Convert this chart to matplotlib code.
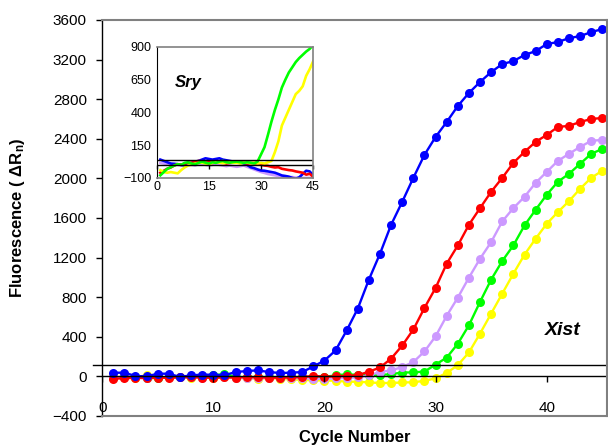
import matplotlib
matplotlib.use("Agg")
import matplotlib.pyplot as plt

plt.rcParams['font.family'] = ['Liberation Sans', 'DejaVu Sans']
plt.rcParams['mathtext.fontset'] = 'custom'
plt.rcParams['mathtext.bf'] = 'Liberation Sans:bold'
plt.rcParams['mathtext.rm'] = 'Liberation Sans:bold'
plt.rcParams['mathtext.it'] = 'Liberation Sans:bold'

# ---- data: Xist (main plot), cycles 1..45 ----
cycles = list(range(1, 46))

xist_blue = [37, 37, 4, 0, 27, 27, -6, 11, 17, 17, 11, 44, 54, 61, 44, 34, 37, 44,
             100, 160, 262, 464, 685, 978, 1240, 1532, 1764, 2006, 2238, 2419, 2570,
             2732, 2863, 2974, 3074, 3155, 3185, 3246, 3286, 3357, 3377, 3417, 3437,
             3478, 3508]
xist_red = [-25, -18, -15, -18, -12, -15, -10, -8, -12, -15, -10, -12, -8, -10, -12,
            -15, -10, -8, 5, -3, 0, 6, 13, 47, 90, 180, 312, 474, 692, 894, 1139, 1323,
            1532, 1700, 1865, 2006, 2157, 2268, 2369, 2439, 2520, 2530, 2570, 2600, 2610]
xist_lavender = [-10, -5, -8, -12, -10, -5, -8, -10, -12, -8, -5, -15, -18, -20, -15,
                 -18, -15, -20, -22, -25, -20, -15, -10, 10, 45, 60, 95, 145, 252, 405,
                 612, 796, 998, 1189, 1357, 1566, 1700, 1814, 1955, 2066, 2177, 2248,
                 2318, 2379, 2389]
xist_green = [-15, -10, -5, -20, -15, -10, -5, -10, 0, 10, 25, -5, -10, -5, -10, -15,
              -10, -5, -10, -5, 10, 22, 15, 10, 15, 22, 39, 40, 49, 119, 190, 330, 517,
              753, 978, 1166, 1324, 1525, 1683, 1835, 1966, 2046, 2147, 2248, 2298]
xist_yellow = [-10, -5, -12, 15, -8, -10, -5, -15, -10, -12, -8, -15, -20, -22, -20,
               -25, -30, -35, -40, -42, -44, -54, -54, -61, -67, -67, -61, -60, -44, -20,
               35, 114, 242, 433, 635, 837, 1038, 1230, 1391, 1542, 1660, 1770, 1895,
               2006, 2077]

# ---- data: Sry (inset) ----
sry_blue = [40, 30, 20, 10, 8, 5, 0, -5, 5, 15, 25, 30, 40, 50, 45, 40, 45, 50, 40, 35,
            30, 25, 20, 17, 10, 0, -18, -25, -35, -43, -45, -50, -55, -60, -70, -81,
            -85, -90, -100, -106, -95, -70, -45, -50, -80]
sry_red = [-60, -45, -30, -20, -5, 5, 0, 10, 15, 17, 20, 30, 25, 17, 20, 15, 17, 20, 17,
           10, 15, 17, 20, 15, 17, 10, 12, 15, 5, 0, -5, -8, -15, -20, -18, -30, -35,
           -40, -43, -50, -55, -60, -75, -68, -90]
sry_lavender = [15, 10, 5, 0, 5, 0, -5, 5, 10, 0, -5, 5, 10, 0, -5, 0, 5, 0, -5, -10,
                -5, -10, -15, -10, -5, -15, -25, -35, -45, -55, -62, -70, -75, -80, -85,
                -88, -92, -95, -93, -98, -100, -100, -100, -100, -100]
sry_green = [-80, -55, -30, -18, -5, 5, 0, 15, 20, 10, 5, 15, 25, 17, 10, 20, 15, 25,
             30, 20, 17, 22, 25, 20, 15, 20, 17, 10, 25, 80, 135, 230, 330, 420, 500,
             590, 650, 705, 745, 785, 815, 840, 865, 885, 915]
sry_yellow = [-40, -55, -60, -55, -60, -65, -40, -20, -5, 0, 10, 15, 17, 10, 5, 15, 20,
              17, 12, 17, 20, 15, 17, 10, 15, 17, 12, 17, 10, 15, 10, 20, 30, 98, 180,
              300, 360, 420, 480, 540, 565, 600, 680, 730, 790]

colors = {'blue': '#0000FF', 'red': '#FF0000', 'lavender': '#CC99FF',
          'green': '#00FF00', 'yellow': '#FFFF00'}

main_xticks = [0, 10, 20, 30, 40]
main_yticks = [-400, 0, 400, 800, 1200, 1600, 2000, 2400, 2800, 3200, 3600]
inset_xticks = [0, 15, 30, 45]
inset_yticks = [-100, 150, 400, 650, 900]

fig = plt.figure(figsize=(6.08, 4.46), dpi=100)

# ---- main plot ----
ax = fig.add_axes([0.168, 0.0673, 0.830, 0.8879])
for key, series in [('yellow', xist_yellow), ('green', xist_green),
                    ('lavender', xist_lavender), ('red', xist_red), ('blue', xist_blue)]:
    ax.plot(cycles, series, color=colors[key], lw=1.7, marker='o', ms=6.5, mew=0)

ax.axhline(0, color='k', lw=1)
ax.axhline(110, color='k', lw=1, xmin=-0.018, clip_on=False)
# tick marks on the y=0 axis line
ax.plot(main_xticks, [0] * len(main_xticks), ls='none', marker=3, ms=4, mew=1, color='k')

ax.set_xlim(0, 45.4)
ax.set_ylim(-400, 3600)
ax.set_xticks(main_xticks)
ax.set_yticks(main_yticks)
ax.tick_params(axis='x', length=0, pad=-10.5, labelsize=11)
ax.tick_params(axis='y', length=4, width=1, pad=7, labelsize=11)
for side in ['top', 'right', 'bottom']:
    ax.spines[side].set_color('#808080')
    ax.spines[side].set_linewidth(1.5)
ax.spines['left'].set_linewidth(1)

ax.set_xlabel('Cycle Number', fontsize=12, fontweight='bold', labelpad=10)
ax.set_ylabel('Fluorescence ( ΔR$_\\mathbf{n}$)', fontsize=12, fontweight='bold', labelpad=18)
ax.text(0.913, 0.215, 'Xist', transform=ax.transAxes, fontsize=14,
        fontweight='bold', style='italic', ha='center', va='center')

# ---- inset ----
ins = fig.add_axes([0.258, 0.601, 0.257, 0.2937])
for key, series in [('lavender', sry_lavender), ('blue', sry_blue), ('red', sry_red),
                    ('yellow', sry_yellow), ('green', sry_green)]:
    ins.plot(cycles, series, color=colors[key], lw=1.9)
ins.axhline(0, color='k', lw=1)
ins.axhline(40, color='k', lw=1)
ins.plot(inset_xticks, [0] * len(inset_xticks), ls='none', marker=3, ms=3, mew=1,
         color='k', clip_on=False)
ins.set_xlim(0, 45)
ins.set_ylim(-100, 900)
ins.set_xticks(inset_xticks)
ins.set_yticks(inset_yticks)
ins.tick_params(axis='x', length=0, pad=2, labelsize=9)
ins.tick_params(axis='y', length=0, pad=4, labelsize=9)
for side in ['top', 'right', 'bottom']:
    ins.spines[side].set_color('#808080')
    ins.spines[side].set_linewidth(1.2)
ins.text(0.2, 0.73, 'Sry', transform=ins.transAxes, fontsize=12,
         fontweight='bold', style='italic', ha='center', va='center')

fig.savefig('out.png', dpi=100)
